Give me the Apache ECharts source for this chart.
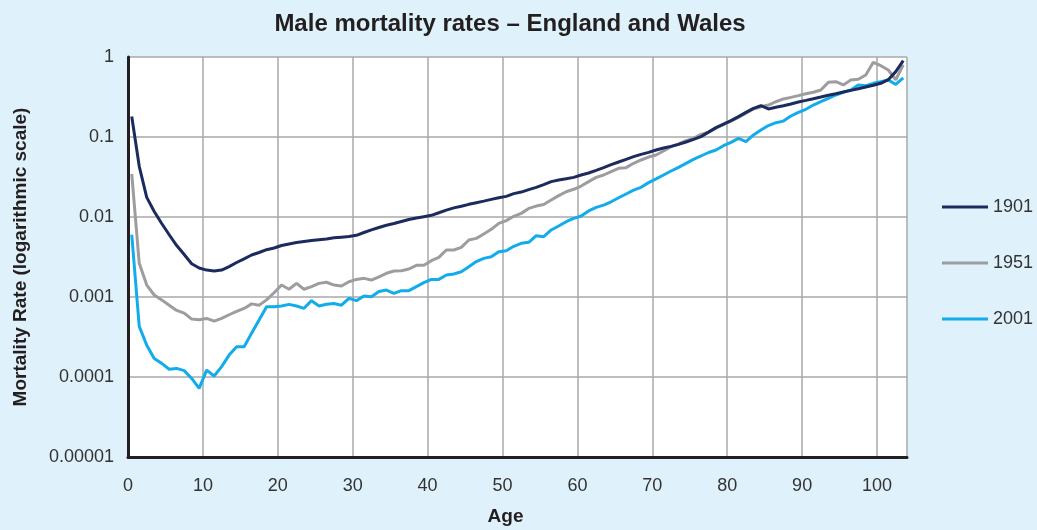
<!DOCTYPE html>
<html>
<head>
<meta charset="utf-8">
<title>Male mortality rates – England and Wales</title>
<script src="https://cdn.jsdelivr.net/npm/echarts@6/dist/echarts.min.js"></script>
<style>
  html, body { margin: 0; padding: 0; background: #dff1fa; }
  #chart { width: 1037px; height: 530px; }
</style>
</head>
<body>
<div id="chart"></div>
<script>
// ages 0..103 (one point per year of age)
const AGES = Array.from({ length: 104 }, (_, i) => i);

// mortality rates
const RATE_1901 = [
  0.18, 0.043, 0.0176, 0.0117, 0.0083, 0.0060, 0.0044, 0.0034, 0.0026, 0.0023,
  0.00217, 0.00211, 0.00217, 0.0024, 0.0027, 0.0030, 0.00335, 0.0036, 0.0039, 0.0041,
  0.0044, 0.0046, 0.0048, 0.00495, 0.0051, 0.0052, 0.0053, 0.0055, 0.0056, 0.0057,
  0.0059, 0.0064, 0.0069, 0.0074, 0.0079, 0.0083, 0.0088, 0.0093, 0.0097, 0.0101,
  0.0105, 0.0113, 0.0122, 0.013, 0.0136, 0.0144, 0.0151, 0.0158, 0.0166, 0.0174,
  0.0181, 0.0196, 0.0205, 0.022, 0.0235, 0.0254, 0.0277, 0.029, 0.0301, 0.0313,
  0.0335, 0.0355, 0.0383, 0.0414, 0.0451, 0.0487, 0.0526, 0.0568, 0.0607, 0.0643,
  0.0688, 0.0729, 0.0764, 0.0809, 0.0866, 0.0935, 0.101, 0.115, 0.131, 0.145,
  0.16, 0.18, 0.203, 0.228, 0.246, 0.224, 0.235, 0.246, 0.259, 0.274,
  0.287, 0.301, 0.316, 0.332, 0.348, 0.365, 0.383, 0.402, 0.422, 0.443,
  0.469, 0.521, 0.656, 0.9
];
const RATE_1951 = [
  0.0345, 0.00264, 0.00141, 0.00106, 0.00092, 0.00079, 0.00068, 0.00063, 0.00053, 0.00052,
  0.00054, 0.0005, 0.00054, 0.0006, 0.00066, 0.00072, 0.00082, 0.00079, 0.00092, 0.00113,
  0.00141, 0.00125, 0.00148, 0.00125, 0.00135, 0.00148, 0.00153, 0.00141, 0.00137, 0.00155,
  0.00166, 0.00171, 0.00163, 0.00179, 0.00198, 0.00211, 0.00213, 0.00224, 0.00249, 0.00249,
  0.00284, 0.00313, 0.00387, 0.00387, 0.00418, 0.00516, 0.00541, 0.00613, 0.00701, 0.00834,
  0.009, 0.0102, 0.0111, 0.0128, 0.0137, 0.0143, 0.0163, 0.0185, 0.0207, 0.0222,
  0.0244, 0.0277, 0.0313, 0.0335, 0.0369, 0.0406, 0.0414, 0.0469, 0.0516, 0.0562,
  0.0596, 0.0668, 0.0757, 0.0818, 0.09, 0.0962, 0.108, 0.115, 0.129, 0.143,
  0.158, 0.176, 0.198, 0.224, 0.239, 0.251, 0.276, 0.299, 0.313, 0.329,
  0.348, 0.362, 0.387, 0.482, 0.492, 0.447, 0.516, 0.526, 0.596, 0.858,
  0.779, 0.688, 0.52, 0.8
];
const RATE_2001 = [
  0.006, 0.00043, 0.00025, 0.00017, 0.000148, 0.000125, 0.000128, 0.00012, 0.000096, 0.000072,
  0.000122, 0.000103, 0.000135, 0.000188, 0.000239, 0.000239, 0.000352, 0.000516, 0.000757, 0.000757,
  0.000772, 0.000809, 0.000772, 0.000722, 0.0009, 0.00077, 0.00081, 0.00083, 0.00079, 0.00096,
  0.0009, 0.00103, 0.00101, 0.00117, 0.00122, 0.00111, 0.0012, 0.0012, 0.00135, 0.00151,
  0.00166, 0.00166, 0.00188, 0.00194, 0.00207, 0.00239, 0.00277, 0.00304, 0.00319, 0.00369,
  0.00379, 0.0043, 0.00469, 0.00482, 0.00584, 0.00568, 0.00688, 0.00772, 0.00874, 0.00962,
  0.0103, 0.0119, 0.0132, 0.0141, 0.0155, 0.0174, 0.0194, 0.0217, 0.0235, 0.0269,
  0.0299, 0.0335, 0.0376, 0.0418, 0.0469, 0.0526, 0.0579, 0.064, 0.0688, 0.0779,
  0.0858, 0.0962, 0.0874, 0.106, 0.122, 0.139, 0.151, 0.158, 0.183, 0.203,
  0.222, 0.251, 0.276, 0.304, 0.335, 0.362, 0.387, 0.447, 0.438, 0.469,
  0.492, 0.516, 0.455, 0.55
];

const Y_TICK_LABELS = ['0.00001', '0.0001', '0.001', '0.01', '0.1', '1'];
const YEARS = ['1901', '1951', '2001'];

// Excel draws each point in the middle of its age band
function toPoints(rates) {
  return AGES.map((age, i) => [age + 0.5, rates[i]]);
}

const FONT = '"Liberation Sans", Arial, Helvetica, sans-serif';

let chart = echarts.init(document.getElementById('chart'));

let option = {
  backgroundColor: '#dff1fa',
  textStyle: { fontFamily: FONT },
  title: {
    text: 'Male mortality rates – England and Wales',
    left: 505,
    textAlign: 'center',
    top: 7,
    textStyle: { fontFamily: FONT, fontSize: 24, fontWeight: 'bold', color: '#231f20' }
  },
  legend: {
    data: YEARS,
    orient: 'vertical',
    left: 937,
    top: 193,
    icon: 'rect',
    itemWidth: 46,
    itemHeight: 3,
    itemGap: 38,
    textStyle: { fontFamily: FONT, fontSize: 18, color: '#333' }
  },
  grid: {
    left: 128,
    right: 130,
    top: 57,
    bottom: 73,
    outerBoundsMode: 'none',
    show: true,
    backgroundColor: '#ffffff',
    borderWidth: 0
  },
  xAxis: {
    type: 'value',
    min: 0,
    max: 104,
    interval: 10,
    name: 'Age',
    nameLocation: 'middle',
    nameGap: 50,
    nameTextStyle: {
      fontFamily: FONT, fontSize: 19, fontWeight: 'bold', color: '#231f20',
      padding: [0, 24, 0, 0]
    },
    axisLine: { show: true, onZero: false, lineStyle: { color: '#231f20', width: 3 } },
    axisTick: { show: false },
    axisLabel: { fontFamily: FONT, fontSize: 18, color: '#333', margin: 20, showMaxLabel: false },
    splitLine: { show: true, lineStyle: { color: '#a8a8a8', width: 1.5 } }
  },
  yAxis: {
    type: 'log',
    logBase: 10,
    min: 0.00001,
    max: 1,
    name: 'Mortality Rate (logarithmic scale)',
    nameLocation: 'middle',
    nameGap: 98,
    nameTextStyle: { fontFamily: FONT, fontSize: 19, fontWeight: 'bold', color: '#231f20' },
    axisLine: { show: true, lineStyle: { color: '#231f20', width: 3 } },
    axisTick: { show: false },
    axisLabel: {
      fontFamily: FONT,
      fontSize: 18,
      color: '#333',
      margin: 14,
      formatter: function (v) {
        return Y_TICK_LABELS[Math.round(Math.log10(v)) + 5];
      }
    },
    splitLine: { show: true, lineStyle: { color: '#a8a8a8', width: 1.5 } }
  },
  series: [
    {
      name: '1901',
      type: 'line',
      z: 4,
      symbol: 'none',
      data: toPoints(RATE_1901),
      lineStyle: { color: '#1c2b5e', width: 3 },
      itemStyle: { color: '#1c2b5e' }
    },
    {
      name: '1951',
      type: 'line',
      z: 2,
      symbol: 'none',
      data: toPoints(RATE_1951),
      lineStyle: { color: '#9d9d9f', width: 3 },
      itemStyle: { color: '#9d9d9f' }
    },
    {
      name: '2001',
      type: 'line',
      z: 3,
      symbol: 'none',
      data: toPoints(RATE_2001),
      lineStyle: { color: '#12acea', width: 3 },
      itemStyle: { color: '#12acea' }
    }
  ]
};

option && chart.setOption(option);
</script>
</body>
</html>
